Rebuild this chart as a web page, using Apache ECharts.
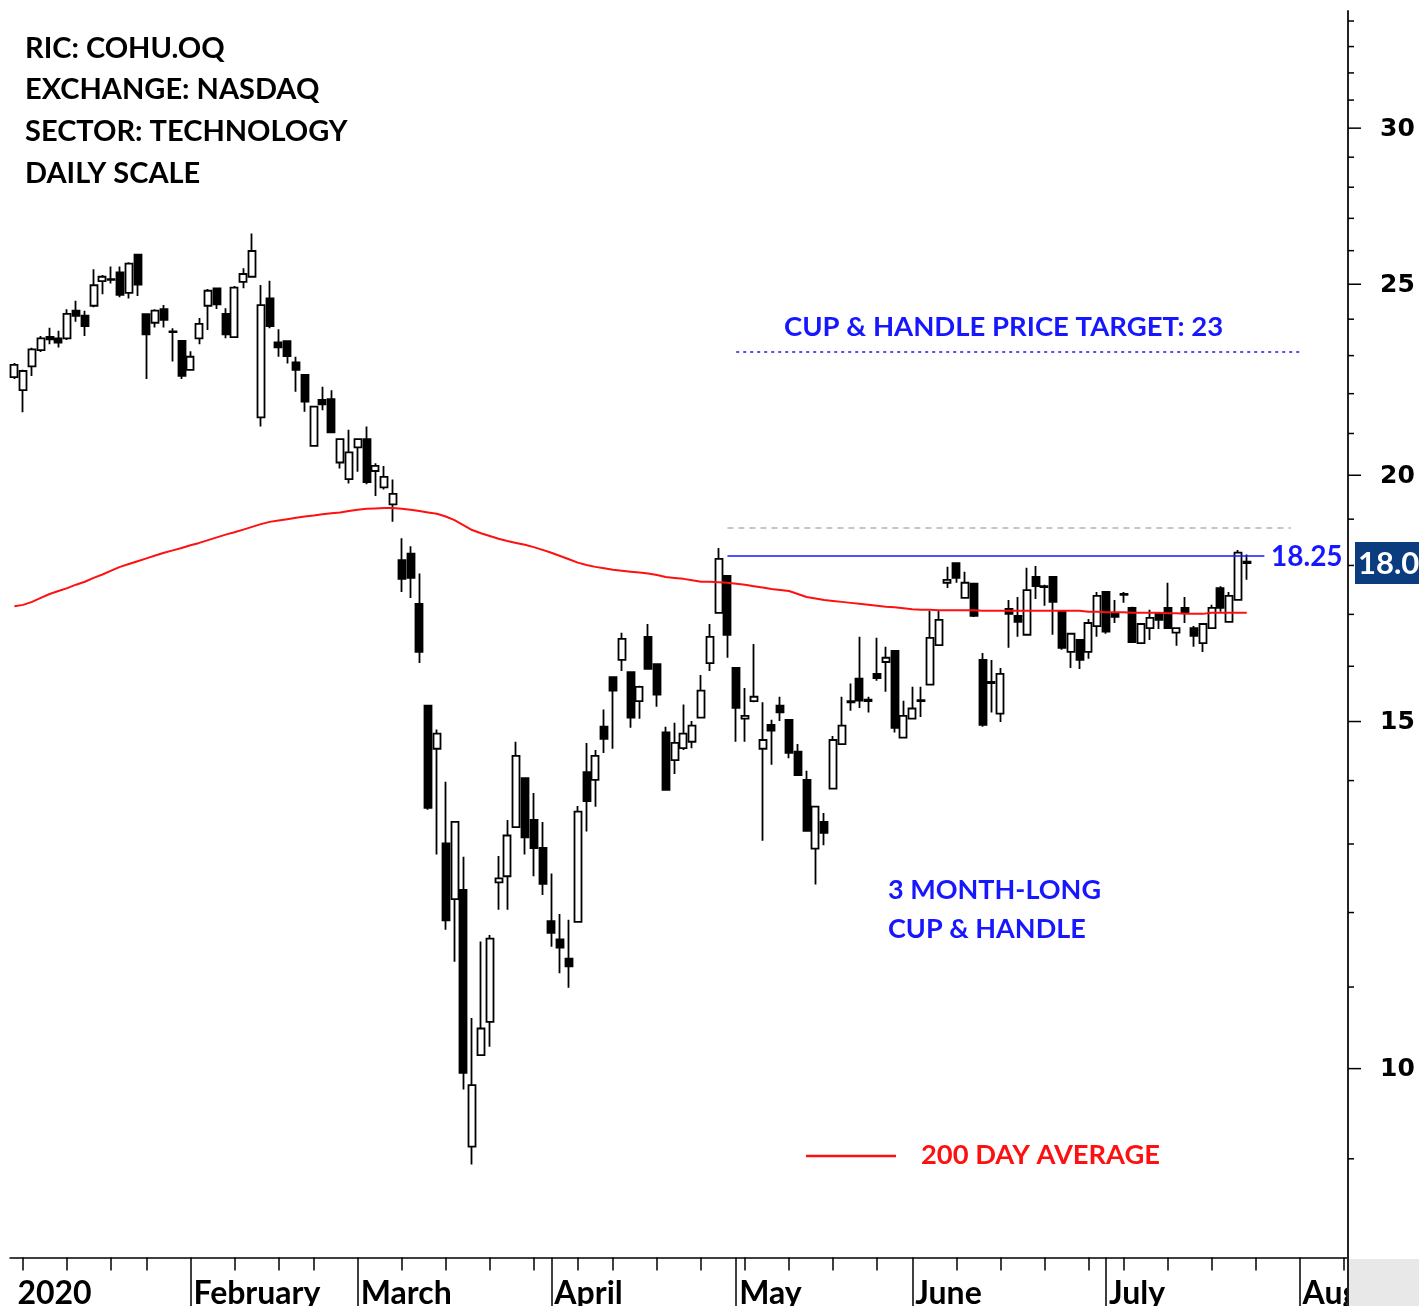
<!DOCTYPE html>
<html>
<head>
<meta charset="utf-8">
<title>COHU.OQ daily</title>
<script src="https://cdn.jsdelivr.net/npm/echarts@6/dist/echarts.min.js"></script>
<style>
  html, body { margin: 0; padding: 0; background: #fff; }
  #chart { width: 1419px; height: 1306px; }
</style>
</head>
<body>
<div id="chart"></div>
<script>
// trading calendar (NASDAQ) shown on the axis
const firstDay = '2020-01-03'
const lastDay = '2020-08-10'
const holidays = ['2020-01-20', '2020-02-17', '2020-04-10', '2020-05-25', '2020-07-03']
const monthNames = ['January', 'February', 'March', 'April', 'May', 'June', 'July', 'August']

// daily prices, Jan 3 .. Jul 24 2020
const open = [
  22.43, 22.09, 22.71, 23.15, 23.51, 23.47, 23.47, 24.24, 24.10, 24.38,
  25.09, 25.13, 25.35, 24.75, 25.88, 24.14, 23.90, 24.28, 23.66, 23.40,
  22.62, 23.47, 24.38, 24.88, 24.15, 23.50, 25.07, 25.22, 21.40, 24.59,
  23.36, 23.39, 22.82, 22.49, 20.70, 21.84, 21.86, 20.30, 19.91, 20.66,
  20.86, 20.10, 19.72, 19.33, 18.11, 18.25, 17.21, 15.28, 14.53, 13.01,
  12.19, 12.32, 9.13, 10.16, 10.56, 12.43, 12.52, 13.26, 14.04, 13.37,
  12.94, 11.88, 11.63, 11.37, 11.87, 14.14, 14.01, 14.91, 15.80, 16.12,
  15.89, 15.36, 16.56, 16.04, 14.81, 14.34, 14.54, 14.65, 15.07, 16.06,
  17.03, 17.78, 15.97, 15.05, 15.36, 14.53, 14.94, 15.28, 15.03, 14.48,
  14.01, 12.93, 13.34, 13.87, 14.61, 15.36, 15.77, 15.39, 15.86, 16.08,
  16.29, 14.72, 15.05, 15.36, 15.66, 16.40, 17.64, 18.05, 17.33, 17.62,
  16.12, 15.71, 15.14, 17.11, 16.97, 16.60, 17.76, 17.57, 17.76, 17.05,
  16.27, 16.50, 16.27, 16.77, 17.45, 17.03, 17.41, 17.13, 16.44, 16.73,
  17.01, 17.13, 16.64, 17.13, 16.73, 16.44, 16.73, 17.53, 16.85, 17.29,
  18.08
]
const high = [
  22.80, 22.62, 23.21, 23.53, 23.76, 23.68, 24.28, 24.52, 24.24, 25.44,
  25.27, 25.52, 25.52, 25.65, 25.88, 24.14, 24.28, 24.40, 23.75, 23.40,
  23.12, 24.03, 24.86, 24.88, 24.31, 24.95, 25.47, 26.53, 24.98, 25.10,
  23.72, 23.39, 22.97, 22.49, 21.67, 22.18, 22.09, 20.86, 21.09, 20.88,
  21.17, 20.28, 20.22, 19.90, 18.58, 18.41, 17.83, 15.28, 14.86, 13.98,
  13.34, 12.81, 10.61, 11.60, 11.69, 12.82, 13.37, 14.65, 14.04, 13.80,
  13.34, 12.56, 11.98, 11.90, 13.59, 14.63, 14.51, 15.21, 15.80, 16.64,
  15.89, 15.64, 16.81, 16.04, 14.91, 14.98, 15.30, 15.01, 15.84, 16.81,
  18.37, 17.78, 15.97, 15.60, 16.42, 15.34, 15.03, 15.44, 15.03, 14.61,
  14.16, 13.58, 13.48, 14.75, 15.44, 15.68, 16.56, 15.44, 16.54, 16.37,
  16.29, 15.37, 15.62, 15.62, 17.07, 17.07, 17.97, 18.05, 17.87, 17.62,
  16.25, 16.12, 15.97, 17.29, 17.35, 17.95, 17.99, 17.60, 17.76, 17.05,
  16.62, 16.50, 16.91, 17.45, 17.45, 17.29, 17.45, 17.15, 16.81, 17.09,
  17.01, 17.64, 16.73, 17.35, 16.77, 16.83, 17.19, 17.57, 17.45, 18.33,
  18.23
]
const low = [
  22.38, 21.53, 22.46, 23.10, 23.31, 23.22, 23.42, 23.93, 23.53, 24.34,
  24.71, 25.02, 24.62, 24.59, 24.66, 22.38, 23.77, 23.77, 22.84, 22.38,
  22.62, 23.31, 23.70, 24.29, 23.47, 23.50, 24.88, 25.22, 21.17, 23.75,
  22.97, 22.79, 22.05, 21.54, 20.70, 21.58, 21.01, 20.16, 19.81, 20.08,
  19.79, 19.52, 19.67, 18.94, 17.45, 17.33, 16.06, 13.53, 12.84, 11.76,
  11.33, 9.76, 8.94, 10.16, 10.26, 12.04, 12.04, 13.25, 12.84, 12.52,
  12.25, 11.53, 11.18, 10.99, 11.87, 13.19, 13.58, 14.46, 14.53, 15.91,
  14.89, 15.05, 15.95, 15.26, 13.85, 14.11, 14.51, 14.54, 15.07, 15.91,
  17.01, 16.16, 14.65, 14.65, 15.34, 13.05, 14.26, 15.01, 14.37, 14.09,
  13.19, 12.40, 12.98, 13.87, 14.61, 15.19, 15.24, 15.16, 15.73, 15.53,
  14.81, 14.72, 15.05, 15.08, 15.66, 16.40, 17.53, 17.64, 17.33, 16.95,
  14.91, 15.16, 14.99, 16.35, 16.56, 16.60, 17.31, 17.17, 16.60, 16.31,
  15.97, 15.95, 16.14, 16.56, 16.62, 16.83, 17.23, 16.44, 16.42, 16.50,
  16.71, 16.73, 16.39, 16.83, 16.37, 16.27, 16.73, 17.05, 16.85, 17.29,
  17.70
]
const close = [
  22.75, 22.59, 23.17, 23.47, 23.44, 23.35, 24.15, 24.09, 23.81, 24.97,
  25.22, 25.15, 24.69, 25.61, 24.99, 23.58, 24.24, 23.98, 23.64, 22.46,
  22.97, 23.87, 24.81, 24.42, 23.58, 24.90, 25.30, 25.99, 24.40, 23.81,
  23.22, 22.99, 22.62, 21.80, 21.67, 21.73, 21.03, 20.86, 20.54, 20.86,
  19.84, 20.22, 19.96, 19.57, 17.72, 17.74, 16.27, 13.56, 14.79, 11.89,
  13.34, 9.95, 9.81, 10.48, 11.64, 12.49, 13.13, 14.41, 13.10, 12.94,
  12.41, 11.72, 11.52, 11.27, 13.50, 13.67, 14.41, 14.70, 15.55, 16.52,
  15.07, 15.62, 15.95, 15.48, 13.85, 14.63, 14.79, 14.93, 15.55, 16.56,
  18.14, 16.60, 15.24, 15.10, 15.44, 14.68, 14.84, 15.16, 14.46, 14.09,
  13.20, 13.58, 13.17, 14.68, 14.93, 15.34, 15.37, 15.36, 15.78, 16.16,
  14.89, 15.10, 15.23, 15.38, 16.54, 16.89, 17.70, 17.74, 17.64, 16.97,
  14.94, 15.69, 15.86, 17.01, 16.85, 17.49, 17.57, 17.55, 17.25, 16.35,
  16.62, 16.12, 16.83, 17.37, 16.66, 16.95, 17.39, 16.46, 16.81, 16.93,
  16.89, 16.73, 16.73, 17.03, 16.58, 16.81, 17.13, 17.13, 17.37, 18.27,
  18.05
]
// 200 day moving average
const ma200 = [
  17.16, 17.19, 17.25, 17.33, 17.41, 17.47, 17.53, 17.60, 17.66, 17.74,
  17.81, 17.89, 17.97, 18.03, 18.09, 18.15, 18.21, 18.27, 18.32, 18.37,
  18.43, 18.48, 18.54, 18.60, 18.66, 18.71, 18.77, 18.83, 18.89, 18.94,
  18.97, 19.00, 19.03, 19.06, 19.08, 19.11, 19.13, 19.15, 19.18, 19.21,
  19.23, 19.24, 19.25, 19.25, 19.23, 19.21, 19.18, 19.15, 19.12, 19.06,
  18.98, 18.87, 18.76, 18.69, 18.63, 18.57, 18.52, 18.48, 18.44, 18.39,
  18.33, 18.27, 18.20, 18.13, 18.06, 18.01, 17.97, 17.94, 17.91, 17.89,
  17.87, 17.85, 17.83, 17.80, 17.76, 17.74, 17.72, 17.69, 17.66, 17.66,
  17.65, 17.64, 17.62, 17.60, 17.57, 17.54, 17.51, 17.49, 17.47, 17.41,
  17.35, 17.32, 17.29, 17.27, 17.25, 17.23, 17.21, 17.19, 17.17, 17.15,
  17.14, 17.12, 17.10, 17.09, 17.09, 17.08, 17.08, 17.08, 17.08, 17.08,
  17.07, 17.07, 17.07, 17.07, 17.07, 17.07, 17.07, 17.07, 17.07, 17.07,
  17.07, 17.07, 17.05, 17.05, 17.04, 17.04, 17.04, 17.03, 17.03, 17.03,
  17.03, 17.02, 17.02, 17.01, 17.01, 17.01, 17.03, 17.03, 17.03, 17.03,
  17.03
]

const targetPrice = 23.1
const breakoutLevel = 18.2
const breakoutLabel = '18.25'
const priorHigh = 18.8
const lastClose = 18.05
const majorTicks = [10, 15, 20, 25, 30]
const minorTicks = [9, 11, 12, 13, 14, 16, 17, 18, 19, 21, 22, 23, 24, 26, 27, 28, 29, 31, 32, 33, 34]

const BLUE = '#1616ff'
const RED = '#ff1010'
const FONT = 'Lato, "Open Sans", sans-serif'

function tradingDays(from, to, skip) {
  const out = []
  const d = new Date(from + 'T00:00:00Z')
  const end = new Date(to + 'T00:00:00Z')
  while (d <= end) {
    const wd = d.getUTCDay()
    const s = d.toISOString().slice(0, 10)
    if (wd !== 0 && wd !== 6 && skip.indexOf(s) < 0) out.push(s)
    d.setUTCDate(d.getUTCDate() + 1)
  }
  return out
}

const dates = tradingDays(firstDay, lastDay, holidays)
const dow = (s) => new Date(s + 'T00:00:00Z').getUTCDay()
const month = (s) => +s.slice(5, 7) - 1
const weekStart = dates.map((d, i) => i > 0 && dow(d) < dow(dates[i - 1]))
const monthStart = dates.map((d, i) => i > 0 && month(d) !== month(dates[i - 1]))

const candles = open.map((o, i) => [o, close[i], low[i], high[i]])

const option = {
  animation: false,
  backgroundColor: '#fff',
  grid: { left: 10, right: 71, top: 11, bottom: 48.5, outerBoundsMode: 'none', containLabel: false },
  xAxis: [
    {
      type: 'category',
      data: dates,
      boundaryGap: true,
      axisLine: { show: true, lineStyle: { color: '#000', width: 1.5 } },
      axisTick: {
        show: true,
        alignWithLabel: true,
        length: 13,
        interval: (i) => weekStart[i],
        lineStyle: { color: '#000', width: 1.5 },
      },
      axisLabel: { show: false },
      splitLine: { show: false },
    },
    {
      type: 'category',
      data: dates,
      boundaryGap: true,
      position: 'bottom',
      axisLine: { show: false },
      axisTick: {
        show: true,
        alignWithLabel: true,
        length: 50,
        interval: (i) => monthStart[i],
        lineStyle: { color: '#000', width: 1.5 },
      },
      axisLabel: {
        show: true,
        interval: (i) => i === 0 || monthStart[i],
        formatter: (v, i) => (i === 0 ? '2020' : monthNames[month(v)]),
        align: 'left',
        margin: 20,
        padding: [0, 0, 0, 3],
        color: '#000',
        fontFamily: FONT,
        fontWeight: 'bold',
        fontSize: 32,
        hideOverlap: false,
      },
      splitLine: { show: false },
    },
  ],
  yAxis: {
    type: 'log',
    logBase: 10,
    min: 8.02,
    max: 34.4,
    position: 'right',
    axisLine: { show: true, lineStyle: { color: '#222', width: 2 } },
    axisTick: { show: false },
    axisLabel: { show: false },
    splitLine: { show: false },
  },
  series: [
    {
      name: 'COHU',
      type: 'candlestick',
      data: candles,
      barWidth: 7.5,
      itemStyle: {
        color: '#fff',
        color0: '#000',
        borderColor: '#000',
        borderColor0: '#000',
        borderWidth: 1.8,
      },
      markLine: {
        silent: true,
        symbol: 'none',
        label: { show: false },
        animation: false,
        data: [
          [
            { coord: [dates[82], targetPrice], lineStyle: { color: BLUE, width: 1.5, type: [3, 4] } },
            { coord: [dates[146], targetPrice] },
          ],
          [
            { coord: [dates[81], priorHigh], lineStyle: { color: '#b4b4b4', width: 1.5, type: [6, 5] } },
            { coord: [dates[145], priorHigh] },
          ],
          [
            { coord: [dates[81], breakoutLevel], lineStyle: { color: BLUE, width: 1.5, type: 'solid' } },
            { coord: [dates[142], breakoutLevel] },
          ],
        ],
      },
    },
    {
      name: '200 DAY AVERAGE',
      type: 'line',
      data: ma200,
      showSymbol: false,
      symbol: 'none',
      z: 3,
      lineStyle: { color: RED, width: 2 },
    },
  ],
}

const chart = echarts.init(document.getElementById('chart'), null, { renderer: 'canvas' })
chart.setOption(option)

// price scale ticks, labels and annotations placed through the y scale
const py = (v) => chart.convertToPixel({ yAxisIndex: 0 }, v)
const axisX = 1348
const txt = (text, x, y, size, fill, extra) => ({
  type: 'text',
  x: x,
  y: y,
  z: 100,
  silent: true,
  style: Object.assign({
    text: text,
    fill: fill,
    font: 'bold ' + size + 'px ' + FONT,
    align: 'left',
    verticalAlign: 'middle',
  }, extra || {}),
})

const graphics = []
minorTicks.forEach((v) => {
  graphics.push({ type: 'line', z: 100, silent: true, shape: { x1: axisX, y1: py(v), x2: axisX + 6, y2: py(v) }, style: { stroke: '#000', lineWidth: 1.5 } })
})
majorTicks.forEach((v) => {
  graphics.push({ type: 'line', z: 100, silent: true, shape: { x1: axisX, y1: py(v), x2: axisX + 13, y2: py(v) }, style: { stroke: '#000', lineWidth: 1.5 } })
  graphics.push(txt(String(v), 1380, py(v) + 1, 25, '#000', { font: 'bold 25px "DejaVu Sans", Verdana, sans-serif' }))
})

// last price box
const yLast = py(lastClose)
graphics.push({ type: 'rect', z: 100, silent: true, shape: { x: 1355, y: yLast - 21, width: 80, height: 42 }, style: { fill: '#0b3c7d' } })
graphics.push(txt(lastClose.toFixed(2), 1358, yLast + 1, 31, '#fff'))

// breakout level label
graphics.push(txt(breakoutLabel, 1271, py(breakoutLevel) + 1, 28, BLUE))

// bottom-right corner of the frame
graphics.push({ type: 'rect', z: 100, silent: true, shape: { x: axisX + 1, y: 1259, width: 80, height: 60 }, style: { fill: '#e8e8e8' } })
graphics.push({ type: 'line', z: 101, silent: true, shape: { x1: axisX, y1: 1250, x2: axisX, y2: 1306 }, style: { stroke: '#222', lineWidth: 2 } })

// header
const header = ['RIC: COHU.OQ', 'EXCHANGE: NASDAQ', 'SECTOR: TECHNOLOGY', 'DAILY SCALE']
header.forEach((t, i) => graphics.push(txt(t, 25, 48.5 + i * 41.6, 29, '#000')))

// pattern notes
graphics.push(txt('CUP & HANDLE PRICE TARGET: 23', 784, 327, 27.5, BLUE))
graphics.push(txt('3 MONTH-LONG', 888, 890, 27, BLUE))
graphics.push(txt('CUP & HANDLE', 888, 929, 27, BLUE))

// legend
graphics.push({ type: 'line', z: 100, silent: true, shape: { x1: 806, y1: 1156, x2: 896, y2: 1156 }, style: { stroke: RED, lineWidth: 2.5 } })
graphics.push(txt('200 DAY AVERAGE', 921, 1155, 27.3, RED))

chart.setOption({ graphic: { elements: graphics } })
</script>
</body>
</html>
